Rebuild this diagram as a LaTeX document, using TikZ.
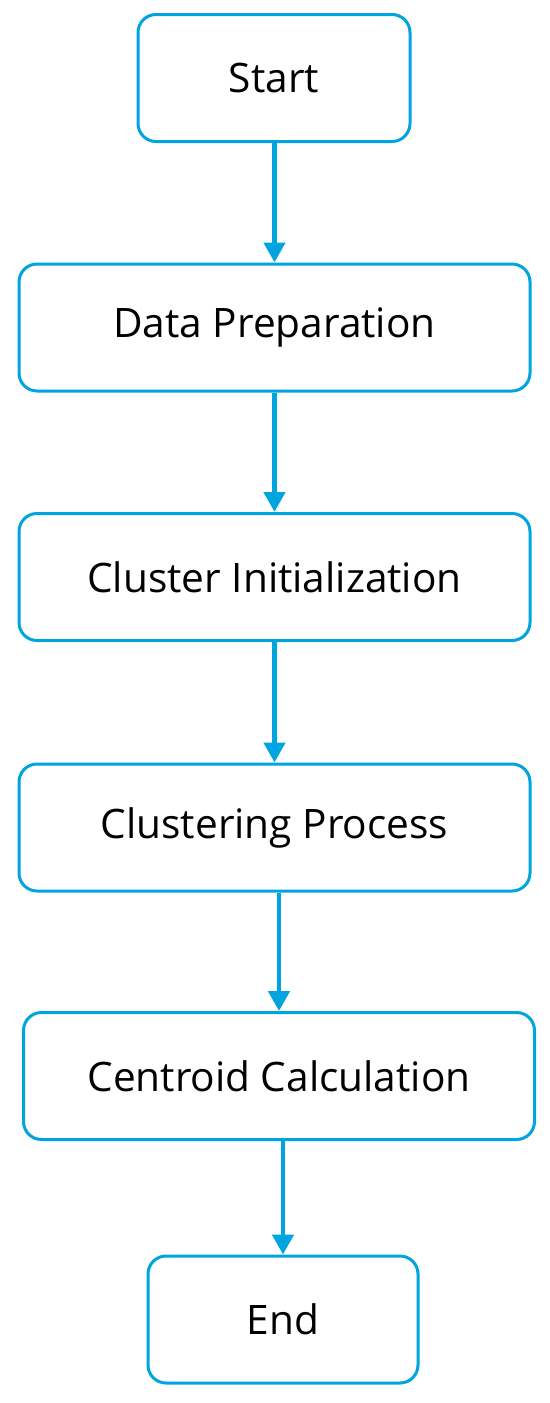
\documentclass[tikz,border=0pt]{standalone}
\usepackage{fontspec}
\setmainfont{Open Sans}[Ligatures={NoCommon}]
\usetikzlibrary{arrows.meta}
\definecolor{flowblue}{RGB}{0,164,222}

\begin{document}
\begin{tikzpicture}[x=0.5pt,y=-0.5pt,
  stepbox/.style={draw=flowblue,line width=1.5pt,rounded corners=9pt,
    fill=white,minimum height=63.5pt,inner sep=0pt,
    font=\fontsize{20.3}{24}\selectfont},
  flow/.style={draw=flowblue,line width=2.4pt,-{Triangle[length=10pt,width=10.5pt]}}]
  \useasboundingbox (0,0) rectangle (550,1403);
  \node[stepbox,minimum width=136pt] (start) at (274,78) {Start};
  \node[stepbox,minimum width=255.5pt] (prep) at (274.5,327.5) {Data Preparation};
  \node[stepbox,minimum width=255.5pt] (init) at (274.5,577) {Cluster Initialization};
  \node[stepbox,minimum width=255.5pt] (proc) at (274.5,827.5) {Clustering Process};
  \node[stepbox,minimum width=255.5pt] (calc) at (279,1076) {Centroid Calculation};
  \node[stepbox,minimum width=135pt] (end) at (283,1319.5) {End};
  \foreach \a/\b in {start/prep,prep/init,init/proc,proc/calc,calc/end}
    \draw[flow] (\b.north |- \a.south) -- (\b.north);
\end{tikzpicture}
\end{document}
